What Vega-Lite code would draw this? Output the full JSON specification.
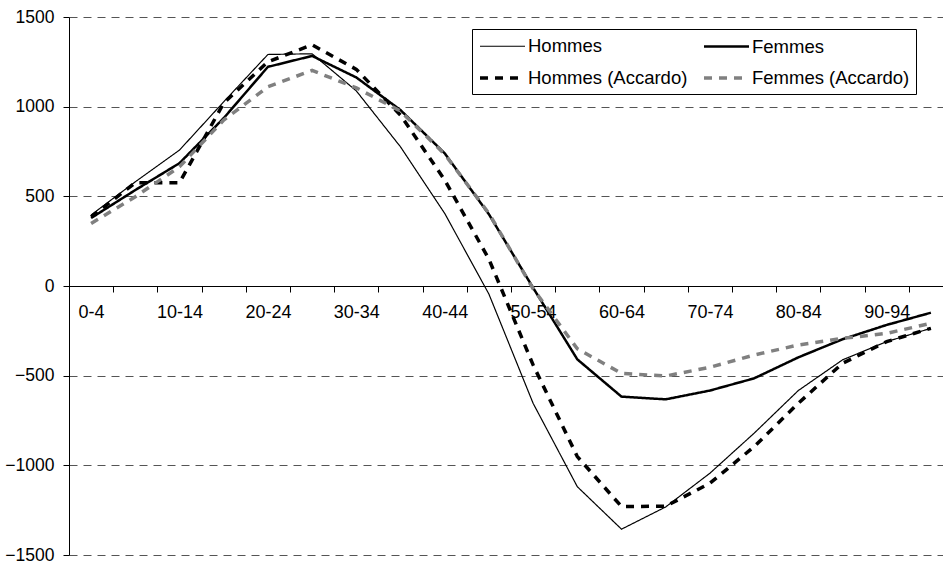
{
  "$schema": "https://vega.github.io/schema/vega-lite/v6.json",
  "autosize": "none",
  "width": 874,
  "height": 538,
  "padding": {"left": 69, "top": 17, "right": 0, "bottom": 10},
  "background": "white",
  "config": {
    "view": {"stroke": null},
    "font": "Liberation Sans",
    "axis": {"labelFont": "Liberation Sans", "labelColor": "black", "domainColor": "black", "tickColor": "black", "title": null}
  },
  "data": {
    "values": [
      {"age": "0-4", "serie": "Hommes", "value": 396},
      {"age": "5-9", "serie": "Hommes", "value": 581},
      {"age": "10-14", "serie": "Hommes", "value": 758},
      {"age": "15-19", "serie": "Hommes", "value": 1027},
      {"age": "20-24", "serie": "Hommes", "value": 1291},
      {"age": "25-29", "serie": "Hommes", "value": 1295},
      {"age": "30-34", "serie": "Hommes", "value": 1088},
      {"age": "35-39", "serie": "Hommes", "value": 776},
      {"age": "40-44", "serie": "Hommes", "value": 405},
      {"age": "45-49", "serie": "Hommes", "value": -45},
      {"age": "50-54", "serie": "Hommes", "value": -654},
      {"age": "55-59", "serie": "Hommes", "value": -1119},
      {"age": "60-64", "serie": "Hommes", "value": -1356},
      {"age": "65-69", "serie": "Hommes", "value": -1232},
      {"age": "70-74", "serie": "Hommes", "value": -1044},
      {"age": "75-79", "serie": "Hommes", "value": -821},
      {"age": "80-84", "serie": "Hommes", "value": -583},
      {"age": "85-89", "serie": "Hommes", "value": -412},
      {"age": "90-94", "serie": "Hommes", "value": -310},
      {"age": "95-99", "serie": "Hommes", "value": -236},

      {"age": "0-4", "serie": "Femmes", "value": 379},
      {"age": "5-9", "serie": "Femmes", "value": 535},
      {"age": "10-14", "serie": "Femmes", "value": 685},
      {"age": "15-19", "serie": "Femmes", "value": 936},
      {"age": "20-24", "serie": "Femmes", "value": 1222},
      {"age": "25-29", "serie": "Femmes", "value": 1283},
      {"age": "30-34", "serie": "Femmes", "value": 1163},
      {"age": "35-39", "serie": "Femmes", "value": 981},
      {"age": "40-44", "serie": "Femmes", "value": 740},
      {"age": "45-49", "serie": "Femmes", "value": 400},
      {"age": "50-54", "serie": "Femmes", "value": -10},
      {"age": "55-59", "serie": "Femmes", "value": -409},
      {"age": "60-64", "serie": "Femmes", "value": -617},
      {"age": "65-69", "serie": "Femmes", "value": -632},
      {"age": "70-74", "serie": "Femmes", "value": -583},
      {"age": "75-79", "serie": "Femmes", "value": -515},
      {"age": "80-84", "serie": "Femmes", "value": -398},
      {"age": "85-89", "serie": "Femmes", "value": -297},
      {"age": "90-94", "serie": "Femmes", "value": -217},
      {"age": "95-99", "serie": "Femmes", "value": -149},

      {"age": "0-4", "serie": "Hommes (Accardo)", "value": 385},
      {"age": "5-9", "serie": "Hommes (Accardo)", "value": 576},
      {"age": "10-14", "serie": "Hommes (Accardo)", "value": 576},
      {"age": "15-19", "serie": "Hommes (Accardo)", "value": 1020},
      {"age": "20-24", "serie": "Hommes (Accardo)", "value": 1250},
      {"age": "25-29", "serie": "Hommes (Accardo)", "value": 1345},
      {"age": "30-34", "serie": "Hommes (Accardo)", "value": 1208},
      {"age": "35-39", "serie": "Hommes (Accardo)", "value": 953},
      {"age": "40-44", "serie": "Hommes (Accardo)", "value": 591},
      {"age": "45-49", "serie": "Hommes (Accardo)", "value": 150},
      {"age": "50-54", "serie": "Hommes (Accardo)", "value": -440},
      {"age": "55-59", "serie": "Hommes (Accardo)", "value": -951},
      {"age": "60-64", "serie": "Hommes (Accardo)", "value": -1230},
      {"age": "65-69", "serie": "Hommes (Accardo)", "value": -1228},
      {"age": "70-74", "serie": "Hommes (Accardo)", "value": -1100},
      {"age": "75-79", "serie": "Hommes (Accardo)", "value": -896},
      {"age": "80-84", "serie": "Hommes (Accardo)", "value": -654},
      {"age": "85-89", "serie": "Hommes (Accardo)", "value": -431},
      {"age": "90-94", "serie": "Hommes (Accardo)", "value": -310},
      {"age": "95-99", "serie": "Hommes (Accardo)", "value": -236},

      {"age": "0-4", "serie": "Femmes (Accardo)", "value": 349},
      {"age": "5-9", "serie": "Femmes (Accardo)", "value": 498},
      {"age": "10-14", "serie": "Femmes (Accardo)", "value": 665},
      {"age": "15-19", "serie": "Femmes (Accardo)", "value": 925},
      {"age": "20-24", "serie": "Femmes (Accardo)", "value": 1111},
      {"age": "25-29", "serie": "Femmes (Accardo)", "value": 1202},
      {"age": "30-34", "serie": "Femmes (Accardo)", "value": 1105},
      {"age": "35-39", "serie": "Femmes (Accardo)", "value": 975},
      {"age": "40-44", "serie": "Femmes (Accardo)", "value": 735},
      {"age": "45-49", "serie": "Femmes (Accardo)", "value": 405},
      {"age": "50-54", "serie": "Femmes (Accardo)", "value": -15},
      {"age": "55-59", "serie": "Femmes (Accardo)", "value": -350},
      {"age": "60-64", "serie": "Femmes (Accardo)", "value": -487},
      {"age": "65-69", "serie": "Femmes (Accardo)", "value": -502},
      {"age": "70-74", "serie": "Femmes (Accardo)", "value": -453},
      {"age": "75-79", "serie": "Femmes (Accardo)", "value": -385},
      {"age": "80-84", "serie": "Femmes (Accardo)", "value": -329},
      {"age": "85-89", "serie": "Femmes (Accardo)", "value": -292},
      {"age": "90-94", "serie": "Femmes (Accardo)", "value": -264},
      {"age": "95-99", "serie": "Femmes (Accardo)", "value": -208}
    ]
  },
  "mark": {"type": "line", "strokeCap": "butt", "strokeJoin": "miter"},
  "encoding": {
    "x": {
      "field": "age",
      "type": "nominal",
      "sort": null,
      "scale": {"range": [0, 884], "paddingInner": 0, "paddingOuter": 0},
      "axis": {
        "orient": "bottom",
        "offset": -269,
        "labelAngle": 0,
        "labelFontSize": 18,
        "labelPadding": 11,
        "tickSize": 6,
        "tickBand": "extent",
        "grid": false,
        "labelExpr": "indexof(['0-4','10-14','20-24','30-34','40-44','50-54','60-64','70-74','80-84','90-94'], datum.value) >= 0 ? datum.value : ''"
      }
    },
    "y": {
      "field": "value",
      "type": "quantitative",
      "scale": {"domain": [-1500, 1500], "nice": false, "zero": false},
      "axis": {
        "values": [-1500, -1000, -500, 0, 500, 1000, 1500],
        "format": "d",
        "labelFontSize": 17.5,
        "labelPadding": 9,
        "tickSize": 6,
        "grid": true,
        "gridColor": "#555555",
        "gridDash": [8, 6],
        "gridWidth": 1
      }
    },
    "color": {
      "field": "serie",
      "type": "nominal",
      "scale": {"domain": ["Hommes", "Hommes (Accardo)", "Femmes", "Femmes (Accardo)"], "range": ["#000000", "#000000", "#000000", "#808080"]},
      "legend": {
        "orient": "none",
        "legendX": 403,
        "legendY": 12,
        "columns": 2,
        "title": null,
        "labelFontSize": 18.5,
        "labelFont": "Liberation Sans",
        "labelColor": "black",
        "symbolType": "M-1,0H3.5",
        "symbolSize": 400,
        "labelOffset": 26,
        "columnPadding": 9,
        "rowPadding": 10,
        "padding": 6,
        "strokeColor": "black",
        "fillColor": "white",
        "cornerRadius": 0
      }
    },
    "strokeDash": {
      "field": "serie",
      "type": "nominal",
      "scale": {"domain": ["Hommes", "Hommes (Accardo)", "Femmes", "Femmes (Accardo)"], "range": [[1, 0], [8, 7], [1, 0], [8, 7]]}
    },
    "strokeWidth": {
      "field": "serie",
      "type": "nominal",
      "scale": {"type": "ordinal", "domain": ["Hommes", "Hommes (Accardo)", "Femmes", "Femmes (Accardo)"], "range": [1.2, 3.5, 2.5, 3.5]}
    }
  }
}
